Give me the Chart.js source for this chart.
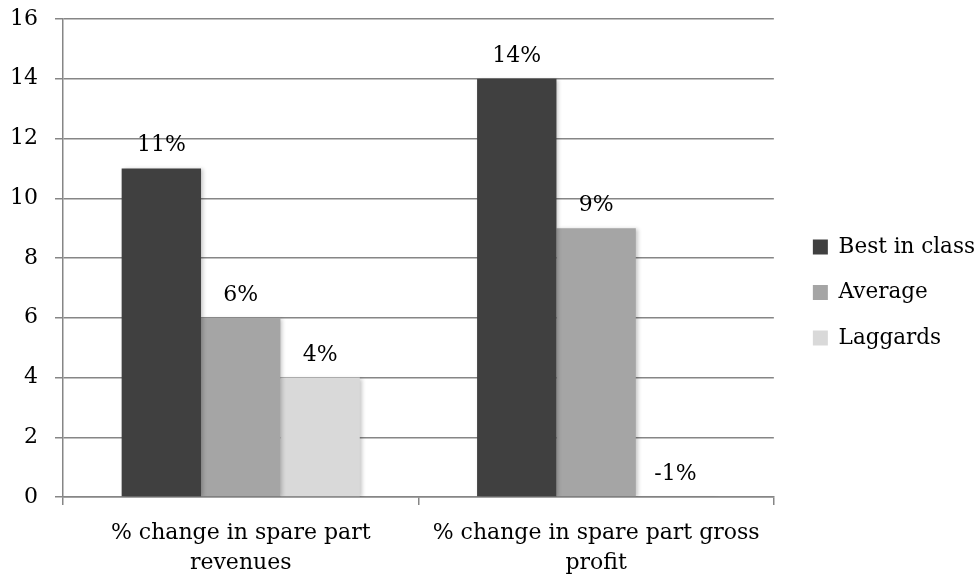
<!DOCTYPE html>
<html>
<head>
<meta charset="utf-8">
<script src="https://cdn.jsdelivr.net/npm/chart.js@4/dist/chart.umd.min.js"></script>
<style>
  html, body { margin: 0; padding: 0; background: #ffffff; }
  #wrap { width: 976px; height: 579px; position: relative; }
</style>
</head>
<body>
<div id="wrap"><canvas id="c"></canvas></div>
<script>
// Category labels (split over two lines)
const categories = [
  ['% change in spare part', 'revenues'],
  ['% change in spare part gross', 'profit']
];

// Series values, in percent
const bestInClass = [11, 14];
const average = [6, 9];
const laggards = [4, -1];

// Value axis ticks
const yTicks = [0, 2, 4, 6, 8, 10, 12, 14, 16];

const FONT = 'DejaVu Serif';
const FONT_SIZE = 22;
const GRID = '#868686';

// Soft drop shadow behind the bars
const barShadow = {
  id: 'barShadow',
  beforeDatasetDraw(chart) {
    const ctx = chart.ctx;
    ctx.save();
    ctx.shadowColor = 'rgba(0,0,0,0.22)';
    ctx.shadowBlur = 4;
    ctx.shadowOffsetX = 2;
    ctx.shadowOffsetY = 1;
  },
  afterDatasetDraw(chart) {
    chart.ctx.restore();
  }
};

// Nudge the legend block within its layout box
const legendShift = {
  id: 'legendShift',
  afterLayout(chart) {
    const lg = chart.legend;
    if (lg) {
      lg.left += 15;
      lg.right += 15;
      lg.top += 3;
      lg.bottom += 3;
    }
  }
};

// Percentage labels above each bar
const valueLabels = {
  id: 'valueLabels',
  afterDatasetsDraw(chart) {
    const ctx = chart.ctx;
    ctx.save();
    ctx.font = FONT_SIZE + 'px "' + FONT + '"';
    ctx.fillStyle = '#000000';
    ctx.textAlign = 'center';
    ctx.textBaseline = 'alphabetic';
    chart.data.datasets.forEach((ds, i) => {
      const meta = chart.getDatasetMeta(i);
      meta.data.forEach((bar, j) => {
        const top = Math.min(bar.y, bar.base, chart.scales.y.bottom);
        ctx.fillText(ds.data[j] + '%', bar.x, top - 17);
      });
    });
    ctx.restore();
  }
};

new Chart(document.getElementById('c'), {
  type: 'bar',
  data: {
    labels: categories,
    datasets: [
      { label: 'Best in class', data: bestInClass, backgroundColor: '#404040' },
      { label: 'Average', data: average, backgroundColor: '#a5a5a5' },
      { label: 'Laggards', data: laggards, backgroundColor: '#d9d9d9' }
    ]
  },
  options: {
    responsive: true,
    maintainAspectRatio: false,
    animation: false,
    devicePixelRatio: 1,
    layout: { padding: { top: 0, left: 0, right: 6, bottom: 0 } },
    datasets: {
      bar: { categoryPercentage: 0.67, barPercentage: 1.0, borderWidth: 0 }
    },
    scales: {
      x: {
        afterFit(scale) { scale.height = 82; },
        grid: {
          offset: true,
          drawOnChartArea: false,
          drawTicks: true,
          tickLength: 8,
          color: GRID,
          lineWidth: 1.5
        },
        border: { color: GRID, width: 1.5 },
        ticks: {
          color: '#000000',
          padding: 13,
          maxRotation: 0,
          font: { family: FONT, size: FONT_SIZE, lineHeight: 1.38 }
        }
      },
      y: {
        min: 0,
        max: 16,
        afterBuildTicks(scale) {
          scale.ticks = yTicks.map(v => ({ value: v }));
        },
        afterFit(scale) {
          scale.width = 63;
          scale.paddingTop = 19;
          scale.paddingBottom = 0;
        },
        grid: {
          color: GRID,
          lineWidth: 1.5,
          tickLength: 8,
          drawTicks: true
        },
        border: { color: GRID, width: 1.5 },
        ticks: {
          color: '#000000',
          padding: 17,
          font: { family: FONT, size: FONT_SIZE }
        }
      }
    },
    plugins: {
      legend: {
        position: 'right',
        labels: {
          boxWidth: 15,
          boxHeight: 15,
          padding: 24,
          color: '#000000',
          font: { family: FONT, size: 21.5 }
        }
      },
      tooltip: { enabled: false }
    }
  },
  plugins: [barShadow, legendShift, valueLabels]
});
</script>
</body>
</html>
